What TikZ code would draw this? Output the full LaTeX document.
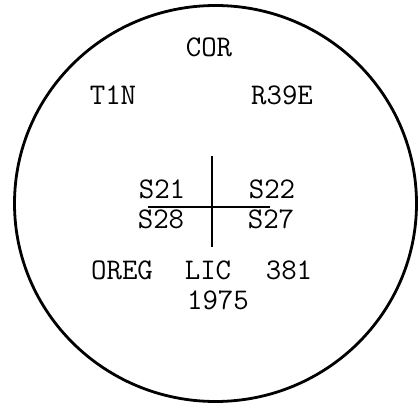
\documentclass[tikz,border=0pt]{standalone}
\usepackage{tikz}
\usetikzlibrary{positioning,shapes.geometric}

\begin{document}
\begin{tikzpicture}[x=1pt,y=-1pt,
 t/.style={inner sep=0pt,font=\ttfamily\fontsize{30}{32}\selectfont},
 ln/.style={draw=black,line width=2.8pt}]
\useasboundingbox (0,0) rectangle (419,409);
\node[draw,ellipse,line width=2.8pt,minimum width=402pt,minimum height=396pt,inner sep=0pt] (rim) at (215.5,203.5) {};
\node[t] (cor) at (209,47) {COR};
\node[t] (twp) at (113,95) {T1N};
\node[t] (rng) at (282,95) {R39E};
\node[t] (s21) at (162,189) {S21};
\node[t] (s22) at (272,189) {S22};
\node[t] (s28) at (161,219) {S28};
\node[t] (s27) at (271,219) {S27};
\node[t] (oreg) at (122,270) {OREG};
\node[t] (lic) at (208,270) {LIC};
\node[t] (num) at (289,270) {381};
\node[t] (yr) at (218,300) {1975};
\coordinate (w) at (148,207);\coordinate (e) at (270,207);
\coordinate (n) at (212,156);\coordinate (s) at (212,247);
\draw[ln] (w)--(e);\draw[ln] (n)--(s);
\end{tikzpicture}
\end{document}
